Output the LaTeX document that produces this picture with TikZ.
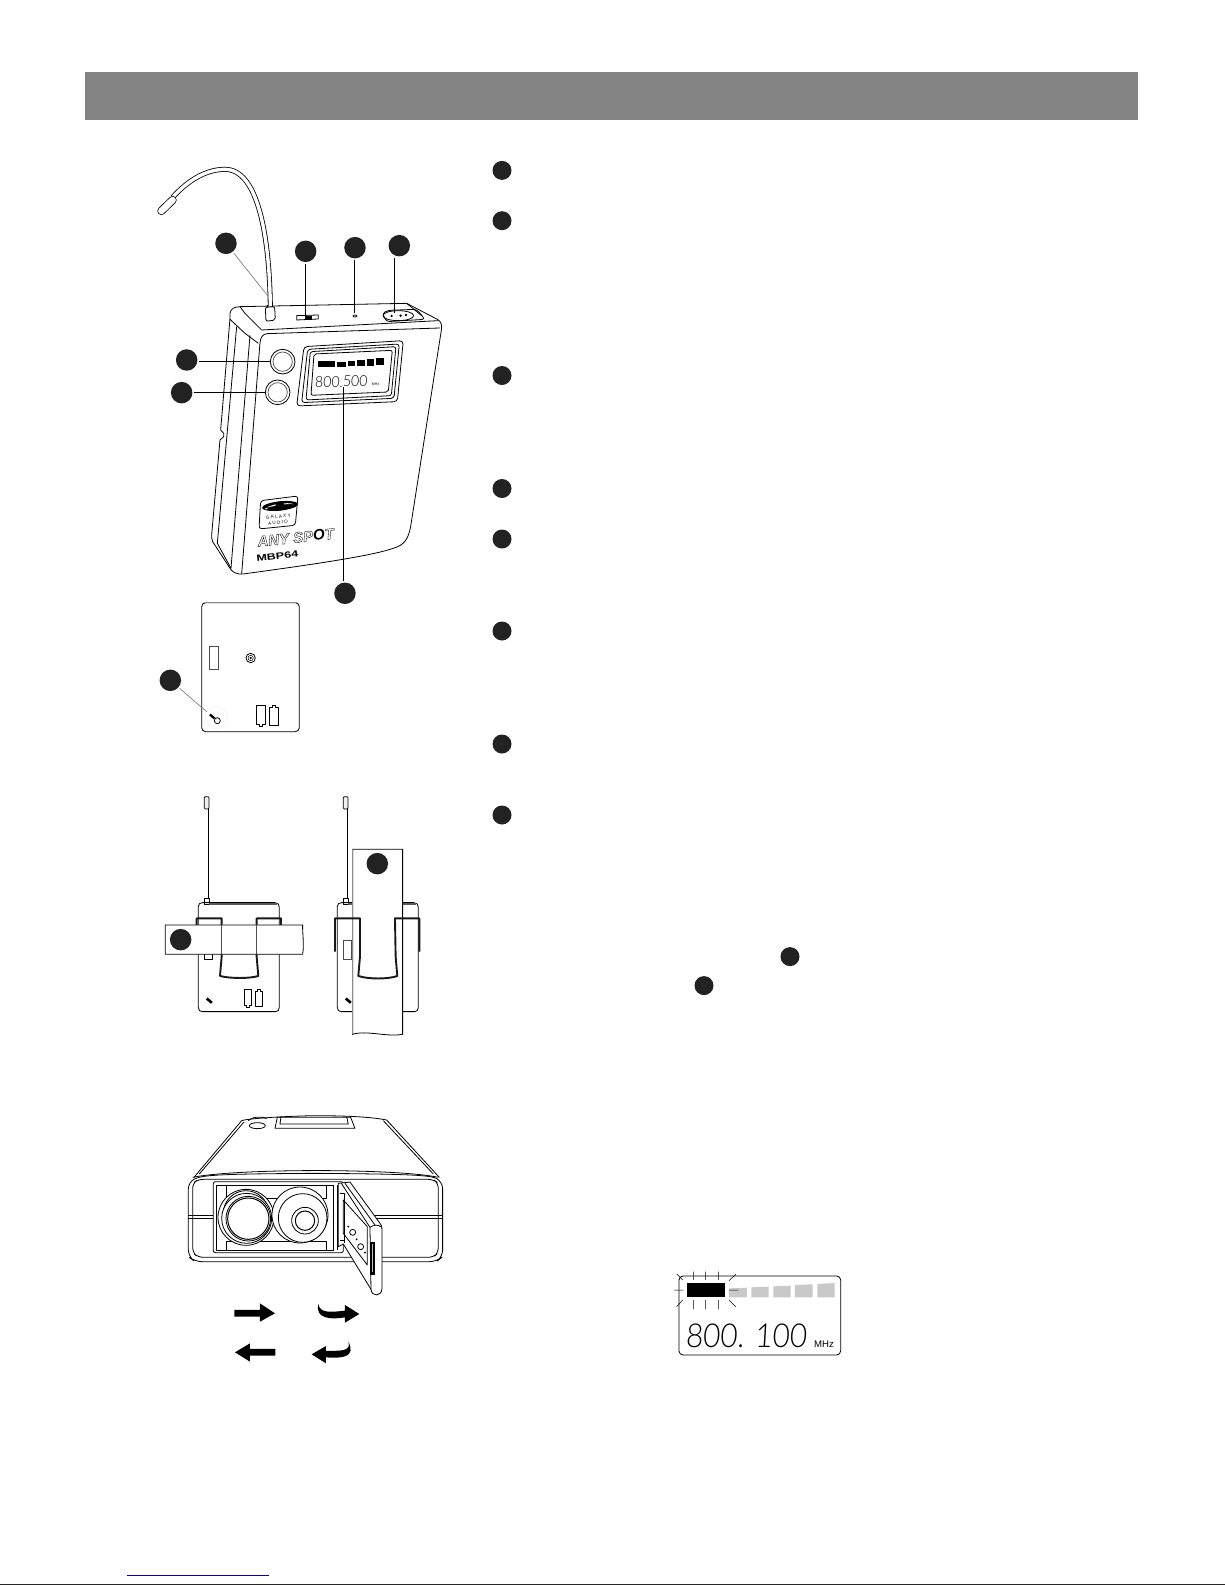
\documentclass[tikz,border=0pt]{standalone}
\usepackage{fontspec}
\usepackage{graphicx}
\setmainfont{Liberation Sans}
\newfontfamily\lcdfont{Lato Light}
\usetikzlibrary{calc}
\newcommand\outlined[2][0.3]{\special{pdf:code 1 Tr #1 w}#2\special{pdf:code 0 Tr}}
\definecolor{dotc}{HTML}{222222}
\definecolor{barc}{HTML}{848484}
\definecolor{seg}{HTML}{C9C9C9}
\tikzset{
  zA/.style={shift={(130,150)},x=.3333pt,y=-.3333pt},
  zB/.style={shift={(140,590)},x=.3333pt,y=-.3333pt},
  zC/.style={shift={(170,1100)},x=.3333pt,y=-.3333pt},
  zD/.style={shift={(660,1260)},x=.3333pt,y=-.3333pt},
  bigdot/.style={circle,fill=dotc,draw=none,inner sep=0pt,minimum size=21.5pt,outer sep=1.5pt},
  listdot/.style={circle,fill=dotc,draw=none,inner sep=0pt,minimum size=19pt},
  ln/.style={draw=black,line width=.8pt,line join=round},
  thinln/.style={draw=black,line width=.5pt,line join=round},
  leader/.style={draw=black,line width=.7pt},
  graylead/.style={draw=black!55,line width=.6pt},
  clipln/.style={draw=black!90,line width=1.9pt,line join=round},
  pipe/.style={draw=black,line width=.8pt,double=white,double distance=3.4pt},
  antenna/.style={draw=black,line width=.8pt,double=white,double distance=2.4pt},
  arrowfill/.style={fill=black,draw=none},
}
\begin{document}
\begin{tikzpicture}[x=1pt,y=-1pt]
\useasboundingbox (0,0) rectangle (1225,1585);
\fill[white] (0,0) rectangle (1225,1585);
% header bar
\fill[barc] (85,72) rectangle (1138,120);
% page-foot marks
\draw[draw={rgb,255:red,0;green,0;blue,204},line width=1pt] (127,1575) -- (269,1575);
\fill[black!85] (0,1584) rectangle (1225,1585);

% list dots
\foreach \n/\y in {a/170.4,b/220.7,c/375.5,d/488.5,e/539,f/631,g/744,h/815}{
  \node[listdot] (l\n) at (502,\y) {};
}
\node[listdot] (lx) at (790,956.6) {};
\node[listdot] (ly) at (704,985.6) {};

% ---------- main transmitter ----------
\begin{scope}[zA]
 % body
 \draw[ln] (300,505) -- (300,490) .. controls (302,476) and (312,471) .. (330,470) -- (830,460)
   -- (922,508) .. controls (932,514) and (936,522) .. (935,535)
   -- (842,1130) .. controls (835,1165) and (825,1185) .. (790,1195)
   .. controls (720,1220) and (500,1250) .. (340,1272)
   .. controls (318,1274) and (306,1266) .. (298,1252) -- (248,1175)
   .. controls (245,1168) and (245,1162) .. (245,1155)
   -- (270,870) -- (281,860) -- (281,850) -- (272,840) -- cycle;
 \draw[ln] (330,470) -- (345,490) -- (395,540);
 \draw[ln] (300,508) -- (345,550) -- (385,580);
 \draw[ln] (320,530) -- (262,1180) -- (303,1255);
 \draw[ln] (395,540) -- (925,512);
 \draw[ln] (360,556) -- (303,1255);
 \draw[ln] (335,1272) -- (390,578) .. controls (392,562) and (398,552) .. (412,551) -- (930,534);
 \draw[ln] (830,460) -- (875,497);
 % microphone cable
 \draw[pipe] (421,468) .. controls (418,260) and (385,58) .. (285,58) .. controls (225,58) and (170,95) .. (128,142);
 \draw[draw=black,line width=.8pt,double=white,double distance=6.5pt,line cap=round] (94,183) -- (128,150);
 % connector
 \draw[ln,fill=white,rounded corners=2pt] (406,472) -- (434,470) -- (436,510) -- (408,514) -- cycle;
 \draw[thinln] (412,466) -- (412,472) (428,465) -- (428,470);
 % switch
 \draw[ln] (500,497) -- (565,495) -- (565,507) -- (500,510) -- cycle;
 \fill (525,497) rectangle (545,510);
 % led
 \draw[ln] (675,498) ellipse (6 and 3);
 % jack
 \draw[ln,rounded corners=3pt] (757,490) -- (775,481) -- (860,478) -- (885,508) -- (770,515) -- cycle;
 \draw[ln] (805,497) ellipse (46 and 15);
 \fill (785,498) circle (4) (812,497) circle (4) (828,495) circle (4);
 % buttons
 \draw[ln] (458,635) circle (37);
 \draw[draw=black!70,line width=.7pt] (458,635) circle (29);
 \draw[ln] (443,727) circle (37);
 \draw[draw=black!70,line width=.7pt] (443,727) circle (29);
 % lcd frame
 \draw[ln,rounded corners=3.5pt] (522,590) -- (820,572) -- (802,755) -- (500,768) -- cycle;
 \draw[ln,rounded corners=3pt] (533,598) -- (808,582) -- (792,745) -- (515,758) -- cycle;
 \draw[ln,rounded corners=2.5pt] (541,605) -- (798,590) -- (784,737) -- (528,750) -- cycle;
 \draw[ln,rounded corners=2pt] (552,612) -- (787,601) -- (775,726) -- (543,736) -- cycle;
 \fill (565,632) rectangle (615,652);
 \fill (622,636) rectangle (648,650);
 \fill (653,634) rectangle (675,649);
 \fill (680,630) rectangle (705,648);
 \fill (710,627) rectangle (733,647);
 \fill (738,624) rectangle (762,645);
 \node[inner sep=0pt,anchor=west,rotate=2,xslant=.08,transform shape] (lcdA) at (555,698) {\scalebox{.94}[1]{\fontsize{15}{15}\selectfont\lcdfont 800.500}};
 \node[inner sep=0pt,rotate=2] (lcdAu) at (737,703) {\fontsize{3.6}{4}\selectfont MHz};
 % logo
 \draw[ln,rounded corners=3pt] (392,1052) -- (504,1038) -- (496,1126) -- (387,1137) -- cycle;
 \fill[rotate around={6:(450,1068)}] (450,1068) ellipse (54 and 14);
 \fill[white,rotate around={6:(450,1068)}] (410,1069) .. controls (425,1060) and (475,1058) .. (492,1067) .. controls (475,1062) and (425,1066) .. (410,1069);
 \fill[white,rotate around={6:(450,1068)}] (408,1072) ellipse (5 and 2);
 \fill (450,1068) circle (14);
 \node[inner sep=0pt,rotate=6] (logoA) at (445,1100) {\fontsize{4.6}{5}\selectfont G A L A X Y};
 \node[inner sep=0pt,rotate=6] (logoB) at (444,1118) {\fontsize{4.6}{5}\selectfont A U D I O};
 % brand
 \node[inner sep=0pt,rotate=6] (brand) at (497,1163) {\fontsize{15}{15}\selectfont\bfseries\itshape\outlined[.35]{ANY SP}O\outlined[.35]{T}};
 \node[inner sep=0pt,rotate=6] (model) at (442,1218) {\scalebox{1.4}[1]{\fontsize{9}{9}\selectfont\bfseries MBP64}};
 % callouts
 \node[bigdot] (dA) at (288,280) {};
 \node[bigdot] (dB) at (527,304) {};
 \node[bigdot] (dC) at (675,293) {};
 \node[bigdot] (dD) at (808,287) {};
 \node[bigdot] (dE) at (170,630) {};
 \node[bigdot] (dF) at (155,728) {};
 \node[bigdot] (dG) at (645,1330) {};
 \coordinate (tA) at (413,437);
 \coordinate (tB) at (527,497);
 \coordinate (tC) at (673,490);
 \coordinate (tD) at (793,490);
 \coordinate (tE) at (420,635);
 \coordinate (tF) at (408,727);
 \coordinate (tG) at (639,712);
 \draw[graylead] (dA) -- (tA);
 \draw[leader] (tB |- dB.south) -- (tB);
 \draw[leader] (tC |- dC.south) -- (tC);
 \draw[leader] (tD |- dD.south) -- (tD);
 \draw[leader] (dE.east |- tE) -- (tE);
 \draw[leader] (dF.east |- tF) -- (tF);
 \draw[leader] (tG |- dG.north) -- (tG);
\end{scope}

% ---------- back panel and clip views ----------
\begin{scope}[zB]
 \draw[ln,rounded corners=4pt] (185,38) rectangle (478,425);
 \draw[draw=black!45,line width=.9pt] (192,38) -- (471,38);
 \draw[draw=black!70,line width=.6pt] (207,168) rectangle (235,237);
 \draw[ln] (332,204) circle (14);
 \draw[thinln] (332,204) circle (8);
 \fill (332,204) circle (3.5);
 \draw[draw=black!12,line width=.6pt,densely dotted] (228,383) circle (33);
 \draw[ln] (232,392) circle (9);
 \fill[rotate around={-40:(217,379)}] (208,376) rectangle (226,383);
 \draw[ln] (349,346) -- (377,346) -- (377,403) -- (368,403) -- (368,410) -- (358,410) -- (358,403) -- (349,403) -- cycle;
 \draw[ln] (388,352) -- (397,352) -- (397,346) -- (407,346) -- (407,352) -- (416,352) -- (416,407) -- (388,407) -- cycle;
 \node[bigdot] (dH) at (91,271) {};
 \coordinate (tH) at (200,365);
 \draw[graylead] (dH) -- (tH);

 % left clip view
 \draw[antenna] (200,655) -- (200,925);
 \draw[ln,fill=black!6,rounded corners=1pt] (193,620) rectangle (207,657);
 \draw[ln,fill=white] (194,925) rectangle (207,942);
 \draw[ln] (175,985) -- (175,950) .. controls (175,942) and (180,938) .. (188,938) -- (405,938) .. controls (414,938) and (418,944) .. (418,952) -- (418,1252) .. controls (418,1260) and (414,1265) .. (408,1265) -- (186,1265) .. controls (180,1265) and (175,1260) .. (175,1252) -- cycle;
 \draw[draw=black!65,line width=2.4pt] (207,942) -- (412,942);
 \draw[ln,fill=white] (193,1090) rectangle (218,1108);
 \draw[clipln] (170,1005) -- (170,985) -- (245,985) -- (245,1100) -- (240,1158) .. controls (270,1166) and (330,1166) .. (355,1158) -- (350,1100) -- (350,985) -- (423,985) -- (423,1005);
 \draw[ln,fill=white] (76,1005) -- (488,1005) .. controls (487,1030) and (493,1060) .. (488,1093) -- (76,1093) -- cycle;
 \draw[draw=black!70,line width=.9pt] (245,1005) -- (245,1093) (350,1005) -- (350,1093);
 \fill[rotate around={-40:(208,1232)}] (198,1228) rectangle (218,1236);
 \draw[ln] (313,1198) -- (335,1198) -- (335,1245) -- (328,1245) -- (328,1252) -- (320,1252) -- (320,1245) -- (313,1245) -- cycle;
 \draw[ln] (346,1203) -- (353,1203) -- (353,1198) -- (361,1198) -- (361,1203) -- (368,1203) -- (368,1250) -- (346,1250) -- cycle;
 \node[bigdot] (dJ) at (122,1049) {};

 % right clip view
 \draw[antenna] (617,655) -- (617,925);
 \draw[ln,fill=black!6,rounded corners=1pt] (610,620) rectangle (624,657);
 \draw[ln,fill=white] (611,925) rectangle (624,942);
 \draw[ln] (592,985) -- (592,950) .. controls (592,942) and (597,938) .. (605,938) -- (822,938) .. controls (831,938) and (835,944) .. (835,952) -- (835,1252) .. controls (835,1260) and (831,1265) .. (825,1265) -- (603,1265) .. controls (597,1265) and (592,1260) .. (592,1252) -- cycle;
 \draw[draw=black!65,line width=2.4pt] (625,942) -- (829,942);
 \draw[draw=black!70,line width=.6pt] (610,1051) rectangle (635,1108);
 \fill[rotate around={-40:(625,1232)}] (615,1228) rectangle (635,1236);
 \draw[draw=black,line width=.8pt,fill=white] (788,778) -- (638,778) -- (638,1333) .. controls (680,1320) and (740,1342) .. (788,1333) -- cycle;
 \draw[draw=black!45,line width=1pt] (639,778) -- (639,1333);
 \draw[clipln] (585,1085) -- (585,985) -- (660,985) -- (660,1100) -- (655,1158) .. controls (685,1168) and (745,1168) .. (772,1158) -- (767,1100) -- (765,985) -- (838,985) -- (838,1085);
 \node[bigdot] (dK) at (712,821) {};
\end{scope}

% ---------- battery compartment ----------
\begin{scope}[zC]
 \draw[ln] (72,232) -- (215,62) .. controls (222,58) and (300,50) .. (430,47) .. controls (520,47) and (600,50) .. (650,60) -- (808,232);
 \draw[ln] (88,222) -- (222,66);
 \draw[ln] (790,222) -- (640,62);
 \draw[ln] (235,62) .. controls (245,50) and (275,48) .. (290,56);
 \draw[ln,fill=white] (262,77) ellipse (24 and 9);
 \draw[ln] (315,85) -- (322,52) -- (542,52) -- (555,85) -- cycle;
 \draw[ln] (333,50) -- (330,72) -- (535,72) -- (530,50);
 \draw[ln] (68,232) .. controls (200,205) and (680,205) .. (805,232);
 \draw[ln,rounded corners=7pt] (55,245) .. controls (100,225) and (150,222) .. (430,220) .. controls (700,222) and (780,225) .. (818,245) -- (818,470) -- (800,485) -- (75,485) -- (55,470) -- cycle;
 \draw[ln,rounded corners=5pt] (68,250) -- (68,458) -- (85,472) -- (790,472) -- (805,458) -- (805,250) -- (790,238) -- (85,238) -- cycle;
 \draw[ln,fill=white] (55,347) -- (130,347) (55,354) -- (130,354) (610,347) -- (818,347) (610,354) -- (818,354);
 \draw[ln,fill=white,rounded corners=2pt] (130,245) rectangle (520,458);
 \draw[ln] (140,255) rectangle (490,450);
 \draw[ln] (170,255) -- (170,295) -- (470,295) -- (470,255);
 \draw[ln] (170,450) -- (170,425) -- (470,425) -- (470,450);
 \draw[ln,fill=white] (228,352) circle (84);
 \draw[ln,fill=white] (228,340) circle (68);
 \draw[ln,fill=white] (230,355) circle (75);
 \draw[ln] (235,356) circle (67);
 \draw[draw=black,line width=1pt] (235,356) circle (62);
 \draw[ln,fill=white] (390,345) circle (84);
 \draw[ln,fill=white] (398,354) circle (73);
 \draw[ln] (405,362) circle (40);
 \draw[draw=black,line width=1pt] (405,362) circle (29);
 \draw[ln] (490,255) -- (490,450) (502,255) -- (502,450);
 % door
 \draw[ln,fill=white] (505,250) -- (540,246) -- (630,370) .. controls (636,376) and (636,380) .. (636,390) -- (636,565) .. controls (636,590) and (605,592) .. (603,568) -- (520,432) -- (505,440) -- cycle;
 \draw[ln] (514,250) -- (600,382) -- (603,568);
 \draw[ln] (525,250) -- (615,375);
 \draw[ln] (600,382) .. controls (610,375) and (625,372) .. (635,382);
 \draw[ln] (520,300) -- (592,380) -- (592,495) -- (520,400) -- cycle;
 \draw[ln] (510,280) -- (522,280) -- (522,430) (510,420) -- (522,420);
 \draw[ln] (548,397) circle (9) (572,440) circle (9);
 \fill (535,380) circle (3) (560,418) circle (3) (585,458) circle (3);
 \fill (601,425) rectangle (615,525);
 \draw[draw=black!25,line width=.6pt] (606,433) -- (606,517);
 % arrows
 \fill[arrowfill] (193,630) -- (270,630) -- (270,610) -- (315,640) -- (270,665) -- (270,650) -- (193,650) -- cycle;
 \fill[arrowfill] (316,747) -- (240,747) -- (240,730) -- (195,757) -- (240,785) -- (240,767) -- (316,767) -- cycle;
 \fill[arrowfill] (445,612) .. controls (450,640) and (480,637) .. (525,632) -- (525,615) -- (568,642) -- (525,668) -- (525,652) .. controls (480,660) and (435,655) .. (445,612);
 \fill[arrowfill] (535,725) .. controls (545,755) and (510,752) .. (468,753) -- (468,738) -- (425,763) -- (468,790) -- (468,772) .. controls (515,776) and (560,772) .. (535,725);
\end{scope}

% ---------- LCD close-up ----------
\begin{scope}[zD]
 \draw[ln,rounded corners=4pt] (57,48) rectangle (542,285);
 \fill (81,70) rectangle (195,110);
 \fill[seg] (207,85) -- (261,83) -- (261,112) -- (207,112) -- cycle;
 \fill[seg] (274,82) -- (326,80) -- (326,112) -- (274,112) -- cycle;
 \fill[seg] (340,79) -- (392,77) -- (392,112) -- (340,112) -- cycle;
 \fill[seg] (405,75) -- (458,73) -- (458,112) -- (405,112) -- cycle;
 \fill[seg] (472,72) -- (524,69) -- (524,112) -- (472,112) -- cycle;
 \draw[thinln] (100,35) -- (100,60) (137,35) -- (137,60) (175,35) -- (175,60)
   (100,120) -- (100,147) (137,120) -- (137,147) (175,120) -- (175,147)
   (42,90) -- (70,90) (207,90) -- (235,90)
   (50,42) -- (68,60) (228,42) -- (207,62) (50,140) -- (68,120) (207,120) -- (227,140);
 \node[inner sep=0pt,anchor=west,xslant=.06,transform shape] (lcdB) at (78,226) {\scalebox{.9}[1]{\fontsize{33}{33}\selectfont\lcdfont 800. 100}};
 \node[inner sep=0pt] (lcdBu) at (492,252) {\fontsize{9.6}{10}\selectfont MHz};
\end{scope}
\end{tikzpicture}
\end{document}
